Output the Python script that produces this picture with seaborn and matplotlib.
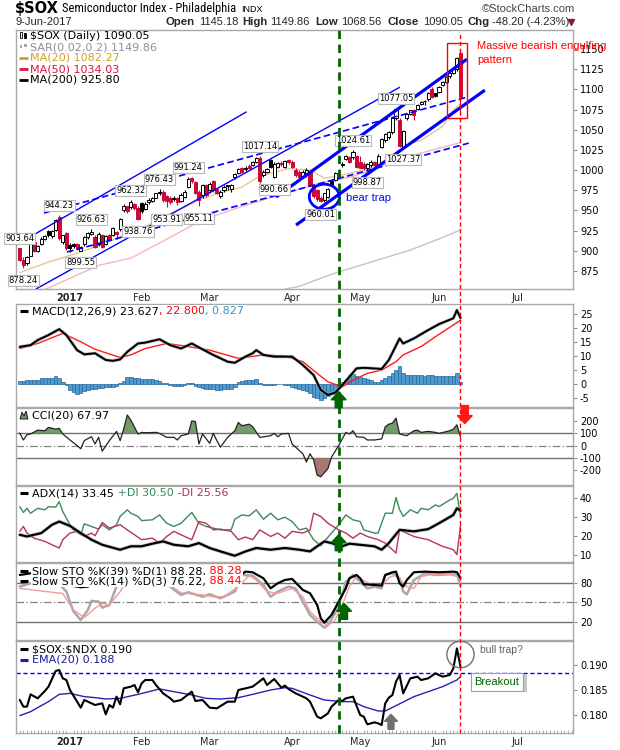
import numpy as np
import pandas as pd
import matplotlib
matplotlib.use("Agg")
import matplotlib.pyplot as plt
import seaborn as sns
from matplotlib import font_manager
from matplotlib.patches import Rectangle, Ellipse, Polygon
from matplotlib.lines import Line2D
from matplotlib.transforms import IdentityTransform, blended_transform_factory

sns.set_theme(style="white")
plt.rcParams['font.family'] = ['DejaVu Sans']
plt.rcParams['axes.unicode_minus'] = False
plt.rcParams['text.parse_math'] = False

_fonts = font_manager.fontManager.ttflist
_names = {f.name for f in _fonts}
ARIAL = 'Liberation Sans' if 'Liberation Sans' in _names else 'DejaVu Sans'
NARROW, NARROW_STRETCH = ARIAL, 'normal'
for _c in ['Liberation Sans Narrow', 'Roboto Condensed', 'Open Sans Condensed', 'DejaVu Sans Condensed',
           'Noto Sans Condensed']:
    if _c in _names:
        NARROW, NARROW_STRETCH = _c, 'normal'
        break
else:
    for _f in _fonts:
        if _f.name in ('Noto Sans', 'DejaVu Sans', 'Roboto', 'Open Sans') and str(_f.stretch) in ('condensed', '75') \
                and _f.weight in (400, 'normal', 'regular'):
            NARROW, NARROW_STRETCH = _f.name, 'condensed'
            break

# ============================ DATA ============================
month_labels = ["2017", "Feb", "Mar", "Apr", "May", "Jun", "Jul"]
month_idx = [14, 34, 53, 76, 95, 117, 139]

opens = [903, 889, 885, 894, 911, 900, 909, 915, 924, 918, 926, 942, 911, 922, 907, 908, 908, 900, 908, 917,
         921, 917, 908, 919, 909, 919, 920, 923, 927, 950, 955, 954, 958, 953, 959, 952, 960, 962, 966, 971,
         973, 968, 966, 965, 965, 962, 967, 979, 990, 985, 973, 969, 981, 975, 986, 976, 968, 975, 981, 976,
         991, 996, 1002, 1001, 1005, 1006, 1010, 1014.5, 994, 998, 1012, 992, 1004, 1009, 1004, 1012, 1010, 1000, 998, 992,
         994, 998, 981, 975, 966, 963, 967, 987, 988, 995, 1006, 1014, 1016, 1016, 1017, 1010, 1008, 1003, 1006, 1010,
         1008, 1029, 1037, 1041, 1047, 1064, 1062, 1029, 1064, 1070, 1074, 1076, 1082, 1086, 1088, 1101, 1095, 1097, 1105, 1109,
         1116, 1120, 1125, 1145.18]
highs = [903.64, 892, 894, 911, 913, 907, 917, 920, 926, 926, 939, 944.23, 920, 923, 910, 910, 910, 906, 918, 923,
         926.63, 919, 923, 921, 920, 921, 930, 925, 941, 958, 956, 962.32, 959, 955, 960, 960, 965, 967, 972, 976.43,
         975, 969, 968, 968, 967, 971, 975, 991.24, 991, 986, 975, 983, 983, 985, 988, 977, 975, 981, 982, 983,
         996, 1002, 1004, 1005, 1007, 1011, 1016, 1017.14, 1000, 1003, 1014, 1010, 1010, 1011, 1013, 1014, 1012, 1002, 1000, 1000,
         1002, 999, 983, 976, 968, 972, 978, 989, 998, 997, 1010, 1019, 1018, 1024.61, 1019, 1018, 1010, 1009, 1012, 1011,
         1020, 1040, 1046, 1048, 1065, 1077.05, 1065, 1050, 1071, 1075, 1076, 1082, 1086, 1087, 1097, 1103, 1096, 1104, 1110, 1116,
         1122, 1127, 1140, 1149.86]
lows = [887, 878.24, 883, 893, 898, 898, 907, 913, 917, 916, 925, 914, 908, 901, 898, 903, 901, 899.55, 906, 915,
        919, 903, 906, 903, 907, 912, 918, 915, 925, 948, 947, 952, 950, 938.76, 947, 950, 958, 960, 965, 969,
        961, 953.91, 958, 962, 957, 960, 965, 978, 984, 970, 955.11, 966, 967, 972, 973, 970, 965, 973, 975, 973,
        989, 995, 996, 999, 1001, 1005, 1009, 984, 991, 996, 1003, 990.66, 1002, 1005, 1002, 1008, 1002, 992, 990, 990,
        992, 980, 966, 962, 960.01, 961, 965, 980, 986, 989, 1004, 1012, 1009, 1014, 1003, 1002, 1000, 998.87, 1004, 1004,
        1006, 1027, 1035, 1039, 1045, 1062, 1029, 1027.37, 1062, 1068, 1062, 1074, 1080, 1080, 1086, 1089, 1090, 1095, 1104, 1108,
        1114, 1119, 1123, 1068.56]
closes = [889, 883, 892, 909, 900, 906, 915, 918, 919, 924, 938, 916, 919, 903, 904, 906, 902, 905, 917, 922,
          923, 905, 921, 905, 918, 914, 928, 921, 940, 956, 949, 961, 953, 940, 949, 958, 963, 966, 971, 973,
          963, 962, 961, 964, 960, 969, 973, 989, 986, 972, 963, 981, 969, 983, 975, 972, 973, 979, 980, 981,
          995, 1001, 998, 1003, 1002, 1010, 1015, 986, 998, 1001, 1004, 1008, 1009, 1007, 1011, 1010, 1004, 994, 992, 998,
          1000, 982, 968, 964, 962, 971, 977, 982, 996, 991, 1008, 1017, 1010, 1023, 1004, 1003, 1002, 1008, 1010, 1006,
          1018, 1039, 1045, 1047, 1064, 1076, 1030, 1049, 1070, 1074, 1068, 1080, 1084, 1085, 1096, 1091, 1092, 1103, 1109, 1115,
          1120, 1125, 1138.25, 1090.05]

ma20_idx = [0, 8, 16, 23, 29, 35, 40, 45, 50, 56, 62, 66, 70, 75, 81, 85, 88, 94, 99, 103, 105, 109, 112, 118, 121, 123]
ma20_val = [873, 886, 897, 908, 919, 930, 942, 952, 963, 972, 979, 990, 996, 1002, 1000, 990, 992, 998, 1004, 1014,
            1021, 1033, 1037, 1054, 1074, 1082.27]
ma50_idx = [5, 13, 22, 31, 40, 45, 50, 56, 62, 68, 74, 83, 93, 102, 111, 117, 123]
ma50_val = [848, 864, 882, 891, 912, 924, 936, 946, 955, 963, 971, 983, 992, 1006, 1020, 1027, 1034.03]
ma200_idx = [70, 75, 78, 87, 98, 109, 116, 123]
ma200_val = [848, 853.5, 856, 871, 886, 901, 913, 925.8]

label_idx = [0, 1, 11, 20, 17, 31, 33, 39, 41, 47, 50, 67, 71, 93, 84, 97, 105, 107]
label_val = [903.64, 878.24, 944.23, 926.63, 899.55, 962.32, 938.76, 976.43, 953.91, 991.24, 955.11,
             1017.14, 990.66, 1024.61, 960.01, 998.87, 1077.05, 1027.37]
label_side = ["hi", "lo", "hi", "hi", "lo", "hi", "lo", "hi", "lo", "hi", "lo",
              "hi", "lo", "hi", "lo", "lo", "hi", "lo"]

# hand-drawn trend lines (day index, price)
thin_upper = [(-1.06, 907.2), (63.3, 1072.2)]
thin_lower = [(4.5, 852.7), (106.1, 1102.7)]
dash_upper = [(6.75, 946.8), (124.8, 1090.3)]
dash_lower = [(13.2, 898.5), (125.3, 1033.4)]
thick_upper = [(71.5, 966.6), (124.8, 1137.4)]
thick_lower = [(77.1, 931.9), (129.8, 1099.0)]

green_day = 89
red_day = 123

macd_idx = [0, 3, 5, 8, 11, 13, 16, 18, 21, 24, 26, 28, 30, 33, 35, 39, 42, 45, 48, 51, 54, 58, 60, 63, 65, 66, 68,
            71, 76, 79, 82, 84, 86, 88, 90, 92, 94, 96, 101, 103, 106, 107, 110, 114, 117, 121, 122, 123]
macd_val = [13.3, 13.9, 15.7, 17.5, 19.6, 17.5, 12.1, 10.6, 11, 8.6, 8.3, 8.8, 11.5, 14.5, 14.8, 16, 13.9, 12.7,
            14.5, 12.4, 10.4, 8, 7.6, 9.8, 11, 12.1, 10.4, 9.8, 9.8, 6.8, 3.2, -2.1, -3.9, -3.1, -0.4, 2.6, 5.6, 5.8,
            5.4, 8.6, 16.3, 14.5, 16.3, 19.3, 21.4, 23.5, 26.4, 23.627]
signal_idx = [0, 5, 12, 17, 21, 28, 31, 35, 41, 46, 53, 61, 68, 74, 79, 83, 86, 90, 93, 97, 101, 105, 107, 112, 116, 123]
signal_val = [12.7, 14.5, 18.1, 15.1, 12.4, 9.5, 10.4, 12.7, 14.5, 13.6, 12.1, 9.2, 10.4, 10, 8, 3.8, 0.8, -1, 1.4,
              3.8, 5, 8, 10.4, 13.4, 16.9, 22.8]
hist_val = [1.0, 1.2, 1.4, 1.4, 1.5, 1.6, 2.0, 2.0, 2.1, 2.2, 2.9, 2.0, 0.6, -0.4, -2.0, -3.0, -3.6, -3.2, -2.4, -2.1,
            -1.9, -1.6, -1.5, -1.3, -1.2, -1.2, -1.0, -0.8, 0.5, 1.2, 2.4, 2.6, 2.3, 2.0, 1.9, 1.8, 1.8, 1.7, 1.6, 1.2,
            0.5, 0.3, -0.5, -0.7, -0.8, -0.7, -0.2, 0.5, 0.4, -0.8, -1.2, -1.3, -1.6, -1.8, -1.9, -2.0, -2.0, -1.9, -1.8, -1.9,
            -1.0, 0.6, 1.0, 1.3, 1.4, 1.5, 1.7, 0.5, -0.4, -0.5, -0.3, -0.2, 0.1, 0.0, -0.2, -0.4, -1.0, -1.3, -1.6, -2.1,
            -2.5, -3.2, -4.5, -5.1, -5.7, -5.0, -4.2, -3.6, -2.8, -1.5, 0.8, 1.6, 3.2, 3.5, 3.0, 2.4, 2.1, 1.8, 1.3, 0.8,
            0.6, 1.5, 2.2, 3.0, 3.8, 5.0, 6.4, 3.8, 3.2, 3.4, 3.3, 3.1, 3.2, 3.0, 3.2, 3.1, 3.0, 2.9, 3.0, 2.9,
            2.8, 2.9, 4.0, 0.827]

cci_idx = [0, 1, 2, 3, 5, 7, 8, 10, 11, 12, 14, 16, 17, 18, 20, 21, 22, 23, 25, 27, 28, 29, 30, 31, 33, 34, 35, 38, 39,
           41, 43, 44, 45, 47, 48, 49, 50, 51, 53, 54, 55, 56, 58, 60, 61, 62, 64, 65, 67, 70, 71, 72, 73, 75, 76, 79,
           80, 81, 82, 83, 84, 86, 87, 89, 91, 92, 93, 94, 96, 97, 99, 101, 102, 103, 104, 105, 106, 108, 110, 111, 112,
           114, 116, 117, 120, 121, 122, 123]
cci_val = [100, 45, 87, 93, 124, 119, 146, 132, 138, 93, 45, 0, -26, 40, 71, 13, 66, -45, 40, 114, 40, 132, 246, 204,
           93, 106, 103, 106, 98, 66, 66, 45, 79, 93, 198, 193, 13, 93, 18, 98, 40, -13, 66, 119, 185, 159, 172, 151,
           66, 79, 98, 71, 93, 98, 13, -66, -132, -66, -114, -238, -251, -185, -93, 0, 106, 93, 119, 71, 66, 45, 45,
           53, 151, 172, 180, 220, 93, 79, 119, 124, 106, 114, 106, 98, 119, 132, 167, 67.97]

pdi_idx = [0, 1, 2, 3, 5, 7, 8, 10, 11, 12, 14, 15, 17, 18, 20, 22, 23, 25, 27, 28, 30, 31, 33, 34, 37, 39, 41, 43, 45,
           48, 50, 52, 54, 56, 59, 60, 62, 64, 66, 68, 70, 72, 74, 76, 78, 80, 82, 84, 85, 87, 89, 91, 93, 95, 96, 99,
           100, 102, 104, 105, 106, 107, 109, 111, 112, 114, 116, 117, 120, 121, 122, 123]
pdi_val = [35.6, 32.5, 34.7, 32.1, 34.7, 33.9, 35.6, 35.3, 38.2, 33, 26, 23.3, 20.7, 26.5, 25.1, 23.7, 26, 23.3, 26,
           30.4, 33.9, 32.1, 30.4, 28.2, 28.6, 31.2, 26.8, 25.1, 26.8, 32.5, 26.8, 25.1, 24.2, 23.3, 23.3, 28.9, 31.2,
           30.7, 33.9, 28.9, 32.1, 28.6, 30, 27.7, 23.3, 24.2, 18.1, 14.9, 17.2, 21.6, 26, 31.2, 28.6, 27.7, 23.3, 21.6,
           21.6, 32.1, 32.1, 40.4, 34, 30.4, 33.9, 32.1, 34.7, 33.9, 36.5, 35.6, 39.1, 40, 42.6, 30.5]
mdi_idx = [0, 1, 2, 4, 7, 9, 11, 12, 14, 16, 18, 20, 21, 23, 25, 28, 30, 32, 34, 37, 39, 41, 43, 45, 48, 50, 52, 54, 56,
           59, 61, 63, 65, 67, 70, 72, 74, 76, 79, 81, 82, 84, 86, 89, 91, 93, 95, 97, 100, 102, 104, 105, 106, 110,
           112, 114, 116, 118, 121, 122, 123]
mdi_val = [22.5, 25.1, 21.6, 18.9, 17.2, 15.4, 13.7, 18.1, 21.6, 22.5, 19.8, 21.6, 20.2, 27.2, 24.2, 26, 23.3, 20.7,
           18.1, 18.9, 16.3, 19.8, 22.5, 20.7, 18.1, 27.7, 26.8, 23.3, 23.7, 22.5, 18.1, 19.5, 18.1, 23.3, 19.8, 21.6,
           18.9, 22.5, 21.6, 23.3, 32.1, 30.4, 26.8, 23.3, 21.6, 18.9, 21.6, 19.8, 18.1, 16.3, 12.8, 11, 23.3, 19.8,
           18.9, 18.1, 16.3, 14.6, 12.8, 10.2, 25.56]
adx_idx = [0, 2, 6, 9, 11, 14, 17, 20, 23, 28, 31, 34, 37, 40, 43, 47, 50, 53, 56, 60, 63, 66, 70, 74, 78, 81, 83, 85,
           87, 90, 92, 95, 99, 101, 103, 106, 110, 114, 117, 121, 122, 123]
adx_val = [20.7, 19.8, 21.6, 26, 27.7, 25.4, 21.6, 18.1, 15.4, 12.8, 14.6, 14.6, 16, 17.2, 15.4, 14.6, 16.3, 13.7,
           11.9, 9.6, 11.9, 13.7, 12.8, 13.7, 12.8, 11.9, 14.6, 17.2, 16.3, 14.6, 16, 15.4, 14.6, 12.8, 16.3, 23.3,
           22.5, 23.7, 26.8, 31.2, 34.7, 33.45]

sto39_idx = [0, 6, 11, 15, 17, 19, 23, 28, 33, 39, 43, 45, 48, 51, 54, 56, 59, 61, 63, 65, 68, 70, 72, 74, 76, 79,
             81, 83, 84, 85, 87, 89, 91, 92, 94, 95, 96, 99, 101, 102, 104, 105, 106, 107, 108, 110, 113, 117, 121,
             122, 123]
sto39_val = [93, 98.2, 93, 75.8, 73.8, 74.8, 85.2, 98.2, 99, 98.2, 93, 85.2, 82.6, 83.6, 82.6, 81.6, 83.6, 90.4, 98.2,
             97.2, 87.8, 72.2, 80, 85.2, 86.8, 69.6, 64.4, 46.1, 25.3, 18.5, 30.5, 51.4, 72.2, 87.8, 93, 87.8, 78.4,
             77.4, 76.4, 93, 97.2, 98.2, 80, 74.8, 85, 97.2, 98.2, 97.2, 98.2, 97.5, 88.28]
sto14_idx = [0, 3, 6, 10, 13, 15, 17, 19, 20, 22, 23, 25, 27, 29, 32, 35, 38, 41, 43, 45, 47, 51, 53, 56, 60, 62, 65,
             68, 70, 72, 75, 77, 79, 81, 83, 85, 86, 88, 90, 91, 93, 95, 97, 99, 101, 102, 104, 106, 107, 108, 110, 113,
             116, 120, 122, 123]
sto14_val = [74.8, 80, 90, 85, 67, 35.7, 22.7, 38.3, 52.4, 51.4, 42, 46, 74.8, 90, 85, 90, 93, 80, 70, 62, 66, 59,
             62.8, 56.6, 67, 93, 92, 77.4, 59, 67, 74.8, 72, 51.4, 30.5, 20, 10.7, 15, 33, 61.8, 82.6, 93, 82.6, 72,
             74.8, 72, 93, 95.6, 87.8, 67, 62.8, 85, 95.6, 93, 94, 94, 76.22]
sto3_idx = [0, 12, 15, 18, 21, 23, 25, 28, 30, 35, 40, 45, 51, 54, 57, 61, 64, 66, 69, 72, 76, 79, 81, 84, 86, 88, 90,
            92, 94, 96, 99, 101, 103, 105, 108, 110, 112, 115, 120, 123]
sto3_val = [72, 64, 38.3, 26.4, 41, 48.8, 46, 67, 85, 88, 85, 65, 61.8, 59, 59, 74.8, 92, 85, 67, 64.4, 72, 59, 35.7,
            20, 14, 22.7, 46, 74.8, 90.4, 84, 76, 76, 88.9, 93, 74.8, 72, 90.4, 94, 94, 88.44]

ratio_idx = [0, 1, 2, 3, 5, 7, 8, 10, 11, 12, 13, 14, 16, 17, 18, 19, 21, 23, 24, 25, 26, 27, 28, 29, 31, 32, 33, 34,
             35, 37, 38, 40, 42, 43, 45, 48, 49, 51, 53, 55, 58, 60, 61, 63, 65, 68, 69, 71, 73, 74, 75, 77, 79, 80,
             81, 83, 84, 86, 87, 89, 90, 91, 93, 95, 96, 97, 99, 100, 101, 102, 103, 104, 105, 106, 107, 109, 111, 112,
             114, 116, 118, 120, 121, 122, 123]
ratio_val = [0.1830, 0.18167, 0.18167, 0.18413, 0.18333, 0.1848, 0.18567, 0.1888, 0.1890, 0.18733, 0.1870, 0.1850,
             0.18267, 0.18147, 0.1830, 0.18267, 0.1820, 0.18233, 0.18013, 0.1820, 0.18147, 0.18367, 0.18213, 0.18533,
             0.18567, 0.1860, 0.18453, 0.18633, 0.1870, 0.1870, 0.1860, 0.18433, 0.18333, 0.18267, 0.1830, 0.18467,
             0.1828, 0.1830, 0.18147, 0.18133, 0.18267, 0.18267, 0.1850, 0.18533, 0.18567, 0.18733, 0.1860, 0.1872,
             0.18547, 0.18587, 0.1852, 0.18433, 0.18367, 0.18333, 0.18267, 0.17967, 0.17933, 0.18033, 0.18167, 0.1830,
             0.1828, 0.18333, 0.18367, 0.1800, 0.17967, 0.17813, 0.17853, 0.17833, 0.1780, 0.18233, 0.18347, 0.1840,
             0.18667, 0.1880, 0.18433, 0.18733, 0.18767, 0.1870, 0.18733, 0.18833, 0.18767, 0.1880, 0.1893, 0.19333,
             0.18967]
ema_idx = [0, 3, 8, 11, 14, 18, 21, 24, 28, 33, 39, 43, 48, 52, 56, 61, 65, 70, 74, 76, 81, 85, 90, 93, 96, 100, 102,
           105, 110, 114, 118, 122, 123]
ema_val = [0.17987, 0.18067, 0.18267, 0.18413, 0.18433, 0.18367, 0.18347, 0.1832, 0.18333, 0.18413, 0.1852, 0.18467,
           0.1840, 0.18333, 0.1832, 0.18347, 0.18413, 0.1850, 0.18547, 0.18533, 0.1840, 0.1830, 0.18267, 0.18267,
           0.18167, 0.1808, 0.1808, 0.18187, 0.18367, 0.18467, 0.18567, 0.1870, 0.18767]
breakout_level = 0.18833

# ============================ FIGURE ============================
W, H = 620, 750
fig = plt.figure(figsize=(6.2, 7.5), dpi=100)
fig.patch.set_facecolor('white')
PL, PR = 16, 573


def rect(top, bot):
    return [PL / W, 1 - bot / H, (PR - PL) / W, (bot - top) / H]


ax_main = fig.add_axes(rect(30, 289))
ax_macd = fig.add_axes(rect(304, 407))
ax_cci = fig.add_axes(rect(408, 485))
ax_adx = fig.add_axes(rect(486, 562))
ax_sto = fig.add_axes(rect(563, 640))
ax_rat = fig.add_axes(rect(641, 733))
panels = [ax_main, ax_macd, ax_cci, ax_adx, ax_sto, ax_rat]
XL = (-1.06, 154.4)
for ax in panels:
    ax.set_xlim(*XL)
    ax.set_facecolor('white')
    ax.grid(False)
    for sp in ax.spines.values():
        sp.set_color('#a8a8a8')
        sp.set_linewidth(1)
    ax.yaxis.tick_right()
    ax.tick_params(axis='y', which='major', direction='out', length=3, width=0.8, color='#909090',
                   labelsize=7, pad=2, right=True, left=False, labelright=True, labelleft=False,
                   labelcolor='black')
    ax.tick_params(axis='x', which='both', bottom=False, top=False, labelbottom=False)

# ---------------- main price panel ----------------
ax = ax_main
sns.lineplot(x=ma200_idx, y=ma200_val, ax=ax, color='#c4c4c4', linewidth=1, estimator=None, legend=False)
sns.lineplot(x=ma50_idx, y=ma50_val, ax=ax, color='#f3b7c0', linewidth=1, estimator=None, legend=False)
sns.lineplot(x=ma20_idx, y=ma20_val, ax=ax, color='#e8c690', linewidth=1, estimator=None, legend=False)

df = pd.DataFrame(dict(o=opens, h=highs, l=lows, c=closes))
df['i'] = np.arange(len(df))
prev = df['c'].shift(1).fillna(df['o'])
edge = np.where(df['c'] < prev, '#cc0a35', 'black')
face = np.where(df['c'] >= df['o'], 'white', edge)
ax.vlines(df['i'], df['l'], df['h'], colors=edge, linewidth=0.8, zorder=3)
body_lo = np.minimum(df['o'], df['c'])
body_h = np.maximum(np.abs(df['c'] - df['o']), 0.8)
ax.bar(df['i'], body_h, bottom=body_lo, width=0.86, color=face, edgecolor=edge, linewidth=0.7, zorder=4)

for ln, style in [(thin_upper, dict(lw=1.0, ls='-')), (thin_lower, dict(lw=1.0, ls='-')),
                  (dash_upper, dict(lw=1.2, ls=(0, (4, 2)))), (dash_lower, dict(lw=1.2, ls=(0, (4, 2)))),
                  (thick_upper, dict(lw=2.3, ls='-')), (thick_lower, dict(lw=2.3, ls='-'))]:
    ax.plot([ln[0][0], ln[1][0]], [ln[0][1], ln[1][1]], color='#0000ff', zorder=5, solid_capstyle='butt', **style)

for i, v, s in zip(label_idx, label_val, label_side):
    off = 7 if s == 'hi' else -8.5
    ax.annotate(f"{v:.2f}", xy=(i, v), xytext=(0, off), textcoords='offset points', ha='center', va='center',
                fontsize=6, color='black', zorder=7,
                bbox=dict(boxstyle='square,pad=0.12', fc='white', ec='#b8b8b8', lw=0.8))

box_i0, box_i1 = red_day - 3.9, red_day + 1.9
ax.add_patch(Rectangle((box_i0, 1064), box_i1 - box_i0, 93.5, fill=False, ec='#ff0000', lw=1, zorder=6))
ax.add_patch(Ellipse((85, 967), 8.4, 31, fill=False, ec='#0000ff', lw=2, zorder=6))
ax.text(91, 966, "bear trap", color='#0000ff', fontsize=8, family=ARIAL, va='center', ha='left', zorder=7)

ax.set_ylim(852.7, 1173.5)
ax.set_yticks(np.arange(875, 1151, 25))
ax.set_yticklabels([str(v) for v in range(875, 1151, 25)])

# ---------------- MACD ----------------
ax = ax_macd
ax.bar(np.arange(len(hist_val)), hist_val, width=1.0, color='#4f9bd0', edgecolor='#27689a', linewidth=0.5, zorder=2)
sns.lineplot(x=signal_idx, y=signal_val, ax=ax, color='#ff1a1a', linewidth=1, estimator=None, legend=False)
sns.lineplot(x=macd_idx, y=macd_val, ax=ax, color='#b0b0b0', linewidth=2.6, estimator=None, legend=False, alpha=0.6)
sns.lineplot(x=macd_idx, y=macd_val, ax=ax, color='black', linewidth=1.5, estimator=None, legend=False)
ax.set_ylim(-8.2, 28.6)
ax.set_yticks([-5, 0, 5, 10, 15, 20, 25])

# ---------------- CCI ----------------
ax = ax_cci
ax.axhline(100, color='#707070', lw=1, zorder=1)
ax.axhline(-100, color='#707070', lw=1, zorder=1)
ax.axhline(0, color='#808080', lw=0.9, ls=(0, (6, 2, 1, 2)), zorder=1)
cx = np.array(cci_idx, dtype=float)
cy = np.array(cci_val, dtype=float)
ax.fill_between(cx, cy, 100, where=cy > 100, interpolate=True, color='#6f9466', alpha=0.95, lw=0, zorder=2)
ax.fill_between(cx, cy, -100, where=cy < -100, interpolate=True, color='#a4706c', alpha=0.95, lw=0, zorder=2)
sns.lineplot(x=cci_idx, y=cci_val, ax=ax, color='#222222', linewidth=0.9, estimator=None, legend=False)
ax.set_ylim(-317, 302)
ax.set_yticks([-200, -100, 0, 100, 200])
ax.set_yticklabels(['-200', '-100', '0', '100', '200'])

# ---------------- ADX ----------------
ax = ax_adx
sns.lineplot(x=pdi_idx, y=pdi_val, ax=ax, color='#3a8a5a', linewidth=1, estimator=None, legend=False)
sns.lineplot(x=mdi_idx, y=mdi_val, ax=ax, color='#b8325c', linewidth=1, estimator=None, legend=False)
sns.lineplot(x=adx_idx, y=adx_val, ax=ax, color='#b0b0b0', linewidth=2.8, estimator=None, legend=False, alpha=0.6)
sns.lineplot(x=adx_idx, y=adx_val, ax=ax, color='black', linewidth=1.6, estimator=None, legend=False)
ax.set_ylim(6.3, 46.5)
ax.set_yticks([10, 20, 30, 40])

# ---------------- Slow STO ----------------
ax = ax_sto
ax.axhline(80, color='#707070', lw=1, zorder=1)
ax.axhline(20, color='#707070', lw=1, zorder=1)
ax.axhline(50, color='#808080', lw=0.9, ls=(0, (6, 2, 1, 2)), zorder=1)
sns.lineplot(x=sto14_idx, y=sto14_val, ax=ax, color='#a8a8a8', linewidth=1.8, estimator=None, legend=False)
sns.lineplot(x=sto3_idx, y=sto3_val, ax=ax, color='#f49a9a', linewidth=1, estimator=None, legend=False)
sns.lineplot(x=sto39_idx, y=sto39_val, ax=ax, color='black', linewidth=1.6, estimator=None, legend=False)
ax.set_ylim(-8.6, 111.7)
ax.set_yticks([20, 50, 80])

# ---------------- ratio ----------------
ax = ax_rat
ax.axhline(breakout_level, color='#0000ff', lw=1, ls=(0, (3, 2)), zorder=1)
sns.lineplot(x=ema_idx, y=ema_val, ax=ax, color='#2424b4', linewidth=1, estimator=None, legend=False)
sns.lineplot(x=ratio_idx, y=ratio_val, ax=ax, color='black', linewidth=1.5, estimator=None, legend=False)
ax.add_patch(Ellipse((red_day, 0.1921), 7.6, 0.0053, fill=False, ec='#707070', lw=1, zorder=6))
ax.set_ylim(0.1764, 0.1948)
ax.set_yticks([0.180, 0.185, 0.190])
ax.set_yticklabels(['0.180', '0.185', '0.190'])

for ax in panels:
    ax.set_xlim(*XL)
    ax.set_xlabel('')
    ax.set_ylabel('')
    ax.tick_params(axis='y', labelsize=7)

# x axis labels
for a in (ax_main, ax_rat):
    a.set_xticks(month_idx)
    a.set_xticklabels(month_labels, fontsize=7)
    a.tick_params(axis='x', which='major', labelsize=7)
ax_main.tick_params(axis='x', which='major', bottom=True, labelbottom=True, length=0, pad=3)
ax_rat.set_xticks(np.arange(0, 155), minor=True)
ax_rat.tick_params(axis='x', which='major', bottom=True, labelbottom=True, length=0, pad=3)
ax_rat.tick_params(axis='x', which='minor', bottom=True, direction='in', length=2, width=0.6, color='#a0a0a0')
for a in (ax_main, ax_rat):
    for t in a.get_xticklabels():
        t.set_fontsize(7)
        if t.get_text() == '2017':
            t.set_fontweight('bold')

# vertical signal lines across all panels
yb = 1 - 733 / H
yt = 1 - 30 / H
trans = blended_transform_factory(ax_main.transData, fig.transFigure)
fig.add_artist(Line2D([green_day, green_day], [yb, yt], transform=trans, color='#006400', lw=2,
                      ls=(0, (3, 2)), zorder=20))
fig.add_artist(Line2D([red_day, red_day], [yb, 1 - 34 / H], transform=trans, color='#ff0000', lw=1,
                      ls=(0, (3, 2)), zorder=20))

# ============================ OVERLAY (texts, arrows) ============================
ov = fig.add_axes([0, 0, 1, 1])
ov.set_xlim(0, W)
ov.set_ylim(H, 0)
ov.axis('off')
ov.patch.set_visible(False)
ov.set_zorder(30)
renderer = fig.canvas.get_renderer()


def seq_text(x, y, parts, size=8, family='DejaVu Sans', bg=False, weight='normal', stretch='normal'):
    for s, c in parts:
        kw = {}
        if bg:
            kw['bbox'] = dict(boxstyle='square,pad=0.08', fc='white', ec='none')
        t = ov.text(x, y, s, color=c, fontsize=size, family=family, ha='left', va='center', fontweight=weight,
                    fontstretch=stretch, **kw)
        x += t.get_window_extent(renderer=renderer).width
    return x


def block_arrow(ax, i, v, up=True, color='#006400', hw=15, hl=8, sw=7, sl=8):
    x, y = ax.transData.transform((i, v))
    s = 1 if up else -1
    pts = [(x, y), (x + hw / 2, y - s * hl), (x + sw / 2, y - s * hl), (x + sw / 2, y - s * (hl + sl)),
           (x - sw / 2, y - s * (hl + sl)), (x - sw / 2, y - s * hl), (x - hw / 2, y - s * hl)]
    ov.add_patch(Polygon(pts, closed=True, transform=IdentityTransform(), color=color, clip_on=False, zorder=40))


block_arrow(ax_macd, green_day, -2.75, True, '#006400')
block_arrow(ax_adx, green_day, 20.7, True, '#006400')
block_arrow(ax_sto, green_day + 1.5, 48.7, True, '#006400')
block_arrow(ax_cci, red_day + 1.2, 177, False, '#ff1a1a', hw=15, hl=8, sw=7, sl=10)
block_arrow(ax_rat, 103.6, 0.18014, True, '#707070', hw=13, hl=7, sw=6, sl=8)

# header
xh = seq_text(15, 8, [("$SOX", 'black')], size=10.5, weight='bold')
title_size = 9 if NARROW != ARIAL else 8
xh = seq_text(xh + 3, 8.5, [("Semiconductor Index - Philadelphia", 'black')], size=title_size, family=NARROW,
              stretch=NARROW_STRETCH)
seq_text(xh + 5, 9, [("INDX", 'black')], size=6.5, family=ARIAL)
ov.text(575, 8.5, "\u00a9StockCharts.com", fontsize=8, family=ARIAL, va='center', ha='right', color='#444444')
ov.text(16, 22, "9-Jun-2017", fontsize=8, family=ARIAL, va='center', ha='left')
hdr = [("Open", 165, True), ("1145.18", 199, False), ("High", 242, True), ("1149.86", 270, False),
       ("Low", 315, True), ("1068.56", 341, False), ("Close", 387, True), ("1090.05", 423, False),
       ("Chg", 467, True), ("-48.20 (-4.23%)", 492, False)]
for s, x, b in hdr:
    ov.text(x, 22, s, fontsize=8.2 if b else 8, fontweight='bold' if b else 'normal', family=ARIAL,
            va='center', ha='left')
ov.plot([571], [22], marker='v', ms=5, color='#8b1a2a', ls='none')

# main legend
ov.add_patch(Rectangle((19.5, 32), 2.5, 6, fc='white', ec='black', lw=0.6))
ov.add_patch(Rectangle((23.5, 33), 2.5, 5, fc='black', ec='black', lw=0.6))
ov.text(30, 36, "$SOX (Daily) 1090.05", fontsize=8, va='center', ha='left', color='black')
ov.add_patch(Rectangle((19.5, 45), 2.5, 2.5, fc='#a0a8b0', ec='none'))
ov.add_patch(Rectangle((24, 44), 2.5, 2.5, fc='#a0a8b0', ec='none'))
ov.text(30, 47, "SAR(0.02,0.2) 1149.86", fontsize=8, va='center', ha='left', color='#8a9098')
for y, txt, c in [(58, "MA(20) 1082.27", '#d4a020'), (69, "MA(50) 1034.03", '#dc143c'), (80, "MA(200) 925.80", 'black')]:
    ov.plot([19, 28], [y, y], color=c, lw=2, solid_capstyle='butt')
    ov.text(30, y, txt, fontsize=8, va='center', ha='left', color=c)

ov.text(477, 46, "Massive bearish engulfing", fontsize=8, family=ARIAL, color='#ff0000', va='center', ha='left')
ov.text(477, 60, "pattern", fontsize=8, family=ARIAL, color='#ff0000', va='center', ha='left')


def icon(y, c='black'):
    ov.plot([20, 28], [y, y], color=c, lw=2.2, solid_capstyle='butt')


icon(311)
seq_text(32, 311, [("MACD(12,26,9) 23.627", 'black'), (", 22.800", '#ff0000'), (", 0.827", '#3d8fc8')], bg=True)
ov.add_patch(Polygon([(20, 419), (22, 412), (24, 416), (26, 411), (28, 419)], closed=True, fc='#6f9466',
                     ec='black', lw=0.6))
seq_text(32, 415, [("CCI(20) 67.97", 'black')], bg=True)
icon(493)
seq_text(32, 493, [("ADX(14) 33.45", 'black'), (" +DI 30.50", '#2e8b57'), (" -DI 25.56", '#b0305a')], bg=True)
icon(571)
seq_text(32, 571, [("Slow STO %K(39) %D(1) 88.28,", 'black'), (" 88.28", '#ff0000')], bg=True)
icon(581)
seq_text(32, 581, [("Slow STO %K(14) %D(3) 76.22,", 'black'), (" 88.44", '#ff0000')], bg=True)
icon(649)
seq_text(32, 649, [("$SOX:$NDX 0.190", 'black')], bg=True)
icon(660, '#1a1a9a')
seq_text(32, 660, [("EMA(20) 0.188", '#1a1a9a')], bg=True)

ov.text(480, 650, "bull trap?", fontsize=7.5, family=ARIAL, color='#606060', va='center', ha='left')
ov.add_patch(Rectangle((472, 675), 55, 17, fc='#c8c8c8', ec='none'))
ov.text(497, 682, "Breakout", fontsize=8, family=ARIAL, color='#006400', va='center', ha='center',
        bbox=dict(boxstyle='square,pad=0.35', fc='white', ec='#a0a0a0', lw=0.8))

fig.savefig('out.png', dpi=100, facecolor='white')
